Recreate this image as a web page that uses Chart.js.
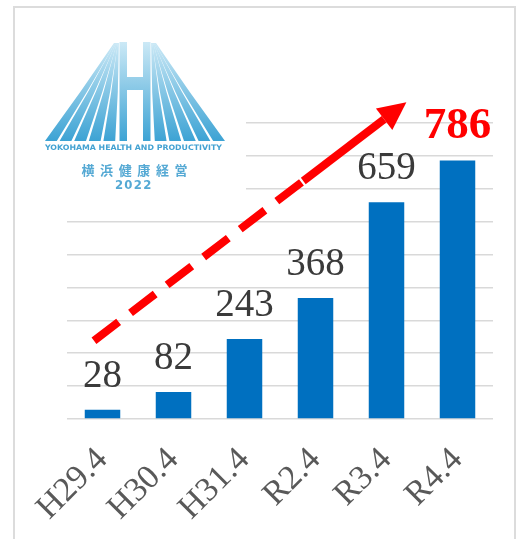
<!DOCTYPE html>
<html>
<head>
<meta charset="utf-8">
<script src="https://cdn.jsdelivr.net/npm/chart.js@4/dist/chart.umd.min.js"></script>
<style>
    html, body { margin: 0; padding: 0; background: #fff; }
    #wrap { position: relative; width: 520px; height: 539px; overflow: hidden; }
    #frame { position: absolute; left: 13px; top: 6px; width: 503px; height: 560px; border: 2px solid #dcdcdc; box-sizing: border-box; }
    canvas { position: absolute; left: 0; top: 0; }
</style>
</head>
<body>
<div id="wrap">
    <div id="frame"></div>
    <canvas id="chart1" width="520" height="539"></canvas>
</div>
<script>
// data
const categories = ["H29.4", "H30.4", "H31.4", "R2.4", "R3.4", "R4.4"];
const counts = [28, 82, 243, 368, 659, 786];
const yMin = 0;
const yMax = 900;
const yStep = 100;
// trend arrow, in (category index, value) units
const trendStart = [-0.12, 238];
const trendEnd = [4.28, 963];

// Logo in the top-left corner (drawn over the grid)
const logoPlugin = {
    id: "logo",
    beforeDatasetsDraw(chart) {
        const ctx = chart.ctx;
        ctx.save();
        ctx.fillStyle = "#fff";
        ctx.fillRect(30, 28, 216, 174);

        const g = ctx.createLinearGradient(0, 42, 0, 141);
        g.addColorStop(0, "#cce9f6");
        g.addColorStop(1, "#3da3d4");
        ctx.fillStyle = g;

        // H posts + crossbar
        ctx.fillRect(119.5, 42, 7.5, 99);
        ctx.fillRect(143, 42, 7.5, 99);
        ctx.fillRect(127, 77, 16, 13);

        // cable stripes, mirrored around the centre
        const cx = 135;
        const X = (x, side) => side < 0 ? x : 2 * cx - x;
        for (let side = -1; side <= 1; side += 2) {
            for (let i = 0; i < 5; i++) {
                const b0 = 45 + 14.6 * i;
                const b1 = b0 + 11.8;
                const t0 = 114 + 0.9 * i;
                const t1 = t0 + 1.3;
                ctx.beginPath();
                ctx.moveTo(X(t0, side), 43);
                ctx.lineTo(X(t1, side), 43);
                ctx.quadraticCurveTo(X((t1 + b1) / 2 + 1.5, side), 92, X(b1, side), 141);
                ctx.lineTo(X(b0, side), 141);
                ctx.quadraticCurveTo(X((t0 + b0) / 2 + 1.5, side), 92, X(t0, side), 43);
                ctx.closePath();
                ctx.fill();
            }
        }

        ctx.fillStyle = "#43a2d2";
        ctx.textAlign = "center";
        ctx.textBaseline = "middle";
        ctx.font = "bold 7.5px 'DejaVu Sans Condensed', 'DejaVu Sans'";
        const txt = "YOKOHAMA HEALTH AND PRODUCTIVITY";
        const w = ctx.measureText(txt).width;
        ctx.save();
        ctx.translate(133.5, 148.5);
        ctx.scale(177 / w, 1);
        ctx.fillText(txt, 0, 0);
        ctx.restore();

        ctx.fillStyle = "#55a9d4";
        ctx.font = "bold 13px 'Noto Sans CJK JP'";
        const kanji = "横浜健康経営";
        for (let i = 0; i < kanji.length; i++) {
            ctx.fillText(kanji[i], 88 + 18.6 * i, 170);
        }
        ctx.font = "bold 13px 'DejaVu Sans Condensed', 'DejaVu Sans'";
        const year = "2022";
        for (let i = 0; i < year.length; i++) {
            ctx.fillText(year[i], 119 + 9.4 * i, 186);
        }
        ctx.restore();
    }
};

// Value labels above the bars and the red trend arrow
const overlayPlugin = {
    id: "overlay",
    afterDatasetsDraw(chart) {
        const ctx = chart.ctx;
        const bars = chart.getDatasetMeta(0).data;
        ctx.save();
        ctx.textAlign = "center";
        ctx.textBaseline = "alphabetic";
        bars.forEach((bar, i) => {
            const last = i === bars.length - 1;
            ctx.fillStyle = last ? "#ff0000" : "#3a3a3a";
            ctx.font = last ? "bold 45px 'Liberation Serif'" : "39px 'Liberation Serif'";
            ctx.fillText(String(counts[i]), bar.x, bar.y - (last ? 22 : 23));
        });

        const xs = chart.scales.x, ys = chart.scales.y;
        const x0 = xs.getPixelForValue(trendStart[0]), y0 = ys.getPixelForValue(trendStart[1]);
        const x1 = xs.getPixelForValue(trendEnd[0]), y1 = ys.getPixelForValue(trendEnd[1]);
        const ang = Math.atan2(y1 - y0, x1 - x0);
        const headLen = 28, headHalf = 13.5;
        const xb = x1 - Math.cos(ang) * headLen, yb = y1 - Math.sin(ang) * headLen;
        const split = 0.67;
        const xm = x0 + (x1 - x0) * split, ym = y0 + (y1 - y0) * split;

        ctx.strokeStyle = "#ff0000";
        ctx.fillStyle = "#ff0000";
        ctx.lineWidth = 8;
        ctx.lineCap = "butt";
        ctx.setLineDash([31, 15]);
        ctx.beginPath();
        ctx.moveTo(x0, y0);
        ctx.lineTo(xm, ym);
        ctx.stroke();
        ctx.setLineDash([]);
        ctx.beginPath();
        ctx.moveTo(xm, ym);
        ctx.lineTo(xb, yb);
        ctx.stroke();

        ctx.beginPath();
        ctx.moveTo(x1, y1);
        ctx.lineTo(xb + Math.sin(ang) * headHalf, yb - Math.cos(ang) * headHalf);
        ctx.lineTo(xb - Math.sin(ang) * headHalf, yb + Math.cos(ang) * headHalf);
        ctx.closePath();
        ctx.fill();
        ctx.restore();
    }
};

const ctx = document.getElementById("chart1");
new Chart(ctx, {
    type: "bar",
    data: {
        labels: categories,
        datasets: [{
            data: counts,
            backgroundColor: "#0070c0",
            barPercentage: 0.5,
            categoryPercentage: 1.0
        }]
    },
    options: {
        responsive: false,
        animation: false,
        devicePixelRatio: 1,
        layout: { padding: { left: 67, right: 27, top: 123, bottom: 0 } },
        plugins: {
            legend: { display: false },
            tooltip: { enabled: false }
        },
        scales: {
            x: {
                grid: { display: false },
                border: { display: false },
                ticks: {
                    minRotation: 45,
                    maxRotation: 45,
                    padding: 13,
                    color: "#595959",
                    font: { family: "'Liberation Serif'", size: 34 }
                },
                afterFit: axis => { axis.height = 120; }
            },
            y: {
                min: yMin,
                max: yMax,
                ticks: { display: false, stepSize: yStep },
                grid: { color: "#d9d9d9", lineWidth: 1.5, drawTicks: false },
                border: { display: false },
                afterFit: axis => { axis.width = 0; }
            }
        }
    },
    plugins: [logoPlugin, overlayPlugin]
});
</script>
</body>
</html>
